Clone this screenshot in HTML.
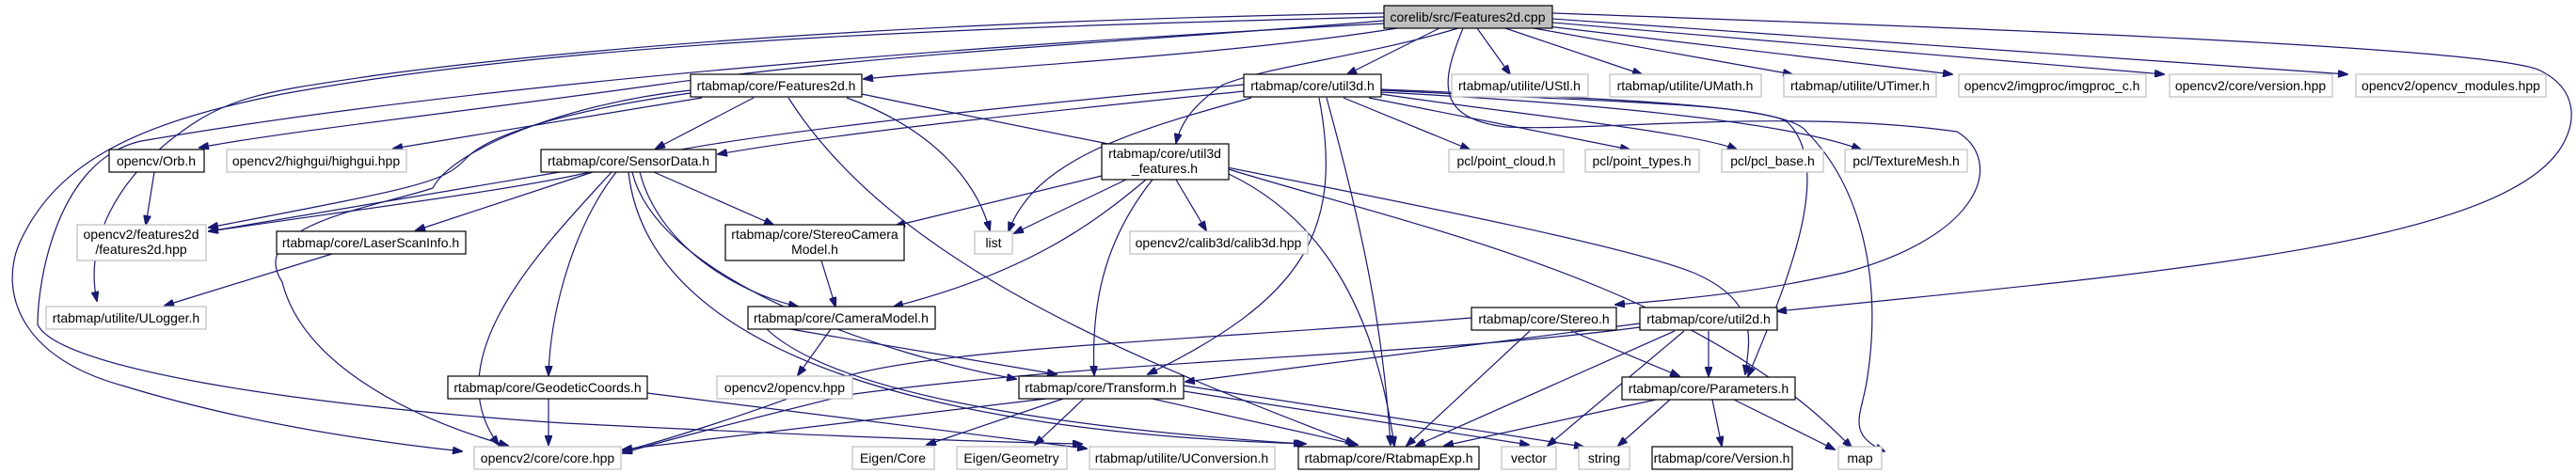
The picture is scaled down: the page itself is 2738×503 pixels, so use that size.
<!DOCTYPE html>
<html><head><meta charset="utf-8"><style>
html,body{margin:0;padding:0;background:#fff;}
svg{display:block;}
text{font-family:"Liberation Sans",Arial,sans-serif;font-size:14px;fill:#000;}
.e{fill:none;stroke:#191970;stroke-width:1.2;}
.b{fill:#fff;stroke:#000;stroke-width:1.2;}
.g{fill:#fff;stroke:#bfbfbf;stroke-width:1.2;}
</style></head><body>
<svg width="2738" height="503" viewBox="0 0 2738 503" xmlns="http://www.w3.org/2000/svg">
<defs><marker id="a" markerWidth="11" markerHeight="8" refX="10" refY="4" orient="auto" markerUnits="userSpaceOnUse"><path d="M0,0 L11,4 L0,8 z" fill="#191970" stroke="#191970"/></marker></defs>
<g class="e" marker-end="url(#a)">
<!-- root edges -->
<path d="M1485,30 C1300,60 1000,75 918,84"/>
<path d="M1471,22 C1200,45 950,55 700,90 C500,118 300,140 212,157"/>
<path d="M1471,14 C1100,20 700,40 400,80 C300,95 250,100 200,135 C120,190 90,260 103,320"/>
<path d="M1471,18 C1000,30 600,45 300,100 C150,130 60,170 20,260 C0,310 20,380 130,410 C260,450 400,470 491,480"/>
<path d="M1471,25 C1000,50 500,90 150,150 C60,170 40,300 40,345 C60,390 300,430 600,450 C900,465 1050,470 1150,472"/>
<path d="M1530,30 L1432,79"/>
<path d="M1550,30 C1450,60 1350,70 1300,90 C1270,110 1255,130 1250,152"/>
<path d="M1570,30 L1605,79"/>
<path d="M1600,30 L1745,79"/>
<path d="M1630,30 L1905,79"/>
<path d="M1645,28 L2075,79"/>
<path d="M1650,24 L2300,79"/>
<path d="M1650,20 L2495,79"/>
<path d="M1650,14 C2100,30 2650,50 2700,75 C2740,95 2740,130 2720,160 C2650,260 2300,290 1889,331"/>
<path d="M1555,30 C1535,80 1520,125 1600,135 C1700,140 1900,115 2080,140 C2130,170 2110,250 1960,290 C1850,315 1760,320 1717,324"/>
<!-- Features2d.h -->
<path d="M801,104 L697,158"/>
<path d="M746,104 L418,158"/>
<path d="M734,99 C620,115 520,140 494,170 C470,195 440,200 222,242"/>
<path d="M734,96 C600,110 480,160 460,200 C400,220 260,240 300,300 C320,380 420,440 540,474"/>
<path d="M900,104 C1000,140 1040,200 1052,245"/>
<path d="M838,104 C950,280 1200,380 1440,472"/>
<path d="M916,100 C1300,180 1700,250 1800,290 C1870,320 1860,360 1855,398"/>
<!-- util3d.h -->
<path d="M1322,97 C1100,120 900,140 763,164"/>
<path d="M1322,90 C1100,110 700,150 640,180 C560,200 400,220 222,246"/>
<path d="M1330,104 C1200,140 1100,170 1072,246"/>
<path d="M1402,104 C1430,250 1380,320 1220,398"/>
<path d="M1410,104 C1450,250 1470,350 1478,473"/>
<path d="M1428,104 L1562,159"/>
<path d="M1455,104 L1732,159"/>
<path d="M1468,100 C1600,120 1800,140 1846,159"/>
<path d="M1468,98 C1700,110 1900,130 1978,159"/>
<path d="M1468,96 C1700,108 1870,110 1900,130 C1950,180 1900,300 1858,400"/>
<path d="M1468,95 C1700,105 1900,110 1920,140 C1980,200 2000,300 1985,400 C1980,440 1960,460 2003,480"/>
<!-- util3d_features -->
<path d="M1171,187 L952,240"/>
<path d="M1197,191 L1078,248"/>
<path d="M1218,191 C1160,240 1090,290 950,326"/>
<path d="M1225,191 C1170,260 1160,330 1163,399"/>
<path d="M1250,191 L1282,245"/>
<path d="M1306,185 C1400,230 1460,320 1482,474"/>
<path d="M1306,180 C1500,240 1800,300 1968,476"/>
<!-- SensorData -->
<path d="M595,183 L222,246"/>
<path d="M630,183 L442,245"/>
<path d="M695,183 L822,239"/>
<path d="M680,183 C700,260 780,310 848,326"/>
<path d="M655,183 C610,240 585,330 583,399"/>
<path d="M650,183 C580,260 460,380 530,473"/>
<path d="M672,183 C700,300 950,380 1080,403"/>
<path d="M668,183 C690,380 1000,460 1388,472"/>
<!-- others -->
<path d="M353,270 L175,325"/>
<path d="M164,183 L155,239"/>
<path d="M873,277 L888,326"/>
<path d="M883,350 L848,399"/>
<path d="M840,350 L1123,398"/>
<path d="M815,350 C900,430 1200,460 1385,472"/>
<path d="M583,423 L583,473"/>
<path d="M688,418 L1155,477"/>
<path d="M1120,423 L662,478"/>
<path d="M1133,423 L985,473"/>
<path d="M1153,423 L1100,473"/>
<path d="M1220,423 L1443,473"/>
<path d="M1258,416 L1625,473"/>
<path d="M1258,410 L1683,475"/>
<path d="M1564,338 C1300,360 1000,370 900,400 C800,440 700,470 662,480"/>
<path d="M1626,352 L1495,474"/>
<path d="M1670,352 L1785,400"/>
<path d="M1743,348 C1500,380 1200,380 900,420 C780,450 700,470 662,482"/>
<path d="M1743,344 L1260,406"/>
<path d="M1780,352 L1505,474"/>
<path d="M1790,352 L1645,474"/>
<path d="M1816,352 L1816,400"/>
<path d="M1760,425 L1535,474"/>
<path d="M1775,425 L1720,474"/>
<path d="M1820,425 L1830,474"/>
<path d="M1843,425 L1950,478"/>
</g>
<!-- nodes -->
<g>
<rect x="1471" y="6" width="179" height="24" fill="#bfbfbf" stroke="#000" stroke-width="1.2"/><text x="1560" y="23" text-anchor="middle">corelib/src/Features2d.cpp</text>
<rect class="b" x="734" y="79" width="182" height="24"/><text x="825" y="96" text-anchor="middle">rtabmap/core/Features2d.h</text>
<rect class="b" x="1322" y="79" width="146" height="24"/><text x="1395" y="96" text-anchor="middle">rtabmap/core/util3d.h</text>
<rect class="g" x="1543" y="79" width="145" height="24"/><text x="1615" y="96" text-anchor="middle">rtabmap/utilite/UStl.h</text>
<rect class="g" x="1711" y="79" width="161" height="24"/><text x="1791" y="96" text-anchor="middle">rtabmap/utilite/UMath.h</text>
<rect class="g" x="1896" y="79" width="162" height="24"/><text x="1977" y="96" text-anchor="middle">rtabmap/utilite/UTimer.h</text>
<rect class="g" x="2082" y="79" width="199" height="24"/><text x="2181" y="96" text-anchor="middle">opencv2/imgproc/imgproc_c.h</text>
<rect class="g" x="2306" y="79" width="173" height="24"/><text x="2392" y="96" text-anchor="middle">opencv2/core/version.hpp</text>
<rect class="g" x="2504" y="79" width="202" height="24"/><text x="2605" y="96" text-anchor="middle">opencv2/opencv_modules.hpp</text>

<rect class="b" x="116" y="159" width="101" height="24"/><text x="166" y="176" text-anchor="middle">opencv/Orb.h</text>
<rect class="g" x="241" y="159" width="191" height="24"/><text x="336" y="176" text-anchor="middle">opencv2/highgui/highgui.hpp</text>
<rect class="b" x="575" y="159" width="186" height="24"/><text x="668" y="176" text-anchor="middle">rtabmap/core/SensorData.h</text>
<rect class="b" x="1171" y="153" width="135" height="38"/><text x="1238" y="168" text-anchor="middle">rtabmap/core/util3d</text><text x="1238" y="184" text-anchor="middle">_features.h</text>
<rect class="g" x="1540" y="159" width="122" height="24"/><text x="1601" y="176" text-anchor="middle">pcl/point_cloud.h</text>
<rect class="g" x="1685" y="159" width="121" height="24"/><text x="1745" y="176" text-anchor="middle">pcl/point_types.h</text>
<rect class="g" x="1830" y="159" width="108" height="24"/><text x="1884" y="176" text-anchor="middle">pcl/pcl_base.h</text>
<rect class="g" x="1961" y="159" width="130" height="24"/><text x="2026" y="176" text-anchor="middle">pcl/TextureMesh.h</text>

<rect class="g" x="82" y="239" width="137" height="38"/><text x="150" y="254" text-anchor="middle">opencv2/features2d</text><text x="150" y="270" text-anchor="middle">/features2d.hpp</text>
<rect class="b" x="294" y="246" width="201" height="24"/><text x="394" y="263" text-anchor="middle">rtabmap/core/LaserScanInfo.h</text>
<rect class="b" x="771" y="239" width="190" height="38"/><text x="866" y="254" text-anchor="middle">rtabmap/core/StereoCamera</text><text x="866" y="270" text-anchor="middle">Model.h</text>
<rect class="g" x="1036" y="246" width="40" height="24"/><text x="1056" y="263" text-anchor="middle">list</text>
<rect class="g" x="1201" y="246" width="189" height="24"/><text x="1295" y="263" text-anchor="middle">opencv2/calib3d/calib3d.hpp</text>

<rect class="g" x="49" y="326" width="170" height="24"/><text x="134" y="343" text-anchor="middle">rtabmap/utilite/ULogger.h</text>
<rect class="b" x="795" y="326" width="199" height="24"/><text x="894" y="343" text-anchor="middle">rtabmap/core/CameraModel.h</text>
<rect class="b" x="1564" y="327" width="154" height="24"/><text x="1641" y="344" text-anchor="middle">rtabmap/core/Stereo.h</text>
<rect class="b" x="1743" y="327" width="146" height="24"/><text x="1816" y="344" text-anchor="middle">rtabmap/core/util2d.h</text>

<rect class="b" x="476" y="400" width="212" height="24"/><text x="582" y="417" text-anchor="middle">rtabmap/core/GeodeticCoords.h</text>
<rect class="g" x="762" y="400" width="144" height="24"/><text x="834" y="417" text-anchor="middle">opencv2/opencv.hpp</text>
<rect class="b" x="1083" y="400" width="175" height="24"/><text x="1170" y="417" text-anchor="middle">rtabmap/core/Transform.h</text>
<rect class="b" x="1724" y="401" width="184" height="24"/><text x="1816" y="418" text-anchor="middle">rtabmap/core/Parameters.h</text>

<rect class="g" x="504" y="475" width="156" height="24"/><text x="582" y="492" text-anchor="middle">opencv2/core/core.hpp</text>
<rect class="g" x="906" y="475" width="87" height="24"/><text x="949" y="492" text-anchor="middle">Eigen/Core</text>
<rect class="g" x="1017" y="475" width="117" height="24"/><text x="1075" y="492" text-anchor="middle">Eigen/Geometry</text>
<rect class="g" x="1158" y="475" width="197" height="24"/><text x="1256" y="492" text-anchor="middle">rtabmap/utilite/UConversion.h</text>
<rect class="b" x="1380" y="475" width="192" height="24"/><text x="1476" y="492" text-anchor="middle">rtabmap/core/RtabmapExp.h</text>
<rect class="g" x="1596" y="475" width="58" height="24"/><text x="1625" y="492" text-anchor="middle">vector</text>
<rect class="g" x="1678" y="475" width="54" height="24"/><text x="1705" y="492" text-anchor="middle">string</text>
<rect class="b" x="1756" y="475" width="149" height="24"/><text x="1830" y="492" text-anchor="middle">rtabmap/core/Version.h</text>
<rect class="g" x="1954" y="475" width="46" height="24"/><text x="1977" y="492" text-anchor="middle">map</text>
</g>
</svg>
</body></html>
